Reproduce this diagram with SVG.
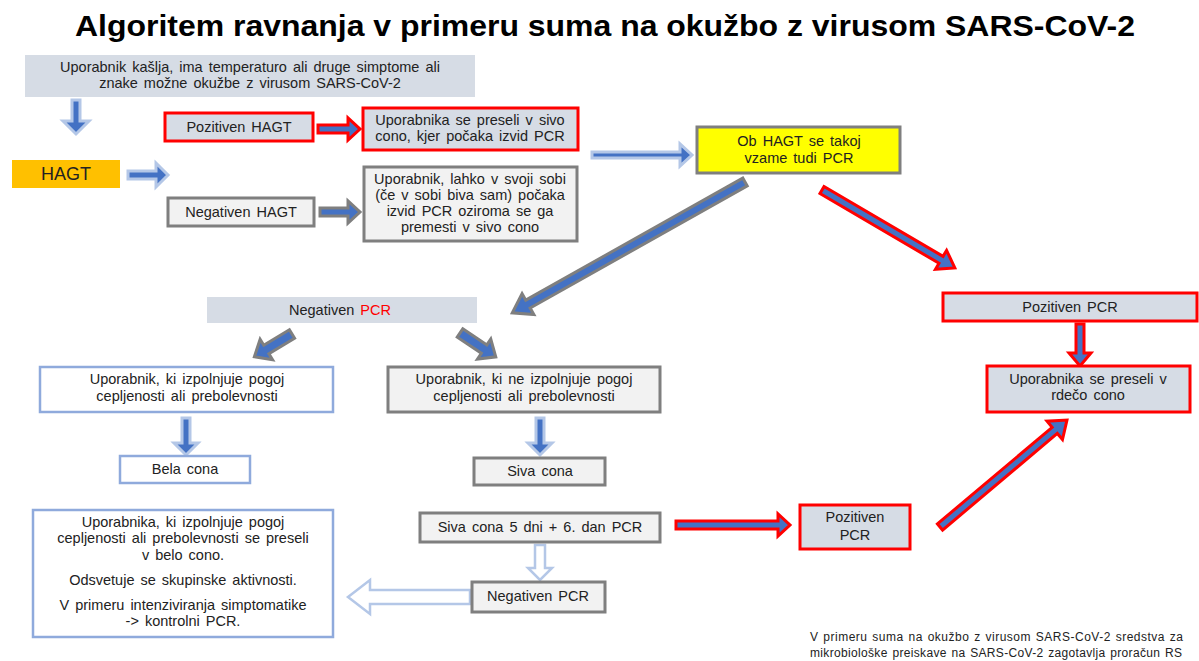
<svg xmlns="http://www.w3.org/2000/svg" width="1199" height="661" viewBox="0 0 1199 661">
<style>
text{font-family:"Liberation Sans",Arial,sans-serif;font-size:14.5px;word-spacing:2px;fill:#222;text-anchor:middle}
.title{font-size:30px;font-weight:bold;fill:#000;word-spacing:0}
.bg{fill:#d6dce5}
.red{fill:#d6dce5;stroke:#ff0000;stroke-width:3}
.gray{fill:#f2f2f2;stroke:#7f7f7f;stroke-width:3}
.lb{fill:#ffffff;stroke:#8faadc;stroke-width:2.5}
.ar-l{fill:#4472c4;stroke:#b4c7e7;stroke-width:3;stroke-linejoin:miter}
.ar-g{fill:#4472c4;stroke:#7f7f7f;stroke-width:3;stroke-linejoin:miter}
.ar-r{fill:#4472c4;stroke:#ff0000;stroke-width:3;stroke-linejoin:miter}
.ar-h{fill:#ffffff;stroke:#b4c7e7;stroke-width:2.5;stroke-linejoin:miter}
.foot{font-size:12px;text-anchor:start;word-spacing:1px}
</style>
<rect width="1199" height="661" fill="#ffffff"/>
<text class="title" x="605" y="36" textLength="1060" lengthAdjust="spacingAndGlyphs">Algoritem ravnanja v primeru suma na okužbo z virusom SARS-CoV-2</text>

<g id="connectors">
<polygon class="ar-l" transform="translate(76,100) rotate(90)" points="0,-4 21,-4 21,-13 34,0 21,13 21,4 0,4"/>
<polygon class="ar-l" transform="translate(128,175)" points="0,-4 28,-4 28,-12 40,0 28,12 28,4 0,4"/>
<polygon class="ar-r" transform="translate(318,129)" points="0,-4 30,-4 30,-11 42,0 30,11 30,4 0,4"/>
<polygon class="ar-g" transform="translate(320,212)" points="0,-4 28,-4 28,-11 40,0 28,11 28,4 0,4"/>
<polygon class="ar-l" transform="translate(592,155)" points="0,-3 88,-3 88,-11 100,0 88,11 88,3 0,3"/>
<polygon class="ar-g" transform="translate(745,182) rotate(150.65)" points="0,-4.5 249,-4.5 249,-12 267,0 249,12 249,4.5 0,4.5"/>
<polygon class="ar-r" transform="translate(822,190) rotate(30.4)" points="0,-4 138,-4 138,-11 154,0 138,11 138,4 0,4"/>
<polygon class="ar-r" transform="translate(1080,324) rotate(90)" points="0,-4 29,-4 29,-11 42,0 29,11 29,4 0,4"/>
<polygon class="ar-g" transform="translate(292,334) rotate(148.8)" points="0,-5 30,-5 30,-12 44,0 30,12 30,5 0,5"/>
<polygon class="ar-g" transform="translate(460,333) rotate(33.7)" points="0,-5 29,-5 29,-12 43,0 29,12 29,5 0,5"/>
<polygon class="ar-l" transform="translate(186,418) rotate(90)" points="0,-4 25,-4 25,-12 37,0 25,12 25,4 0,4"/>
<polygon class="ar-l" transform="translate(540,418) rotate(90)" points="0,-4 25,-4 25,-12 37,0 25,12 25,4 0,4"/>
<polygon class="ar-h" transform="translate(540,545) rotate(90)" points="0,-5 23,-5 23,-12 35,0 23,12 23,5 0,5"/>
<polygon class="ar-h" transform="translate(470,597) rotate(180)" points="0,-7 100,-7 100,-17 122,0 100,17 100,7 0,7"/>
<polygon class="ar-r" transform="translate(676,525)" points="0,-4 102,-4 102,-11 114,0 102,11 102,4 0,4"/>
<polygon class="ar-r" transform="translate(940,527) rotate(-40.1)" points="0,-4 150,-4 150,-12 166,0 150,12 150,4 0,4"/>
</g>

<g id="n-start">
<rect class="bg" x="25" y="55" width="450" height="42"/>
<text x="250" y="72">Uporabnik kašlja, ima temperaturo ali druge simptome ali</text>
<text x="250" y="88">znake možne okužbe z virusom SARS-CoV-2</text>
</g>
<g id="n-hagt">
<rect x="12" y="160" width="108" height="28" fill="#ffc000"/>
<text x="66" y="180" style="font-size:18px">HAGT</text>
</g>
<g id="n-poz-hagt">
<rect class="red" x="165" y="113" width="148" height="28"/>
<text x="239" y="132">Pozitiven HAGT</text>
</g>
<g id="n-siva1">
<rect class="red" x="363" y="108" width="215" height="42"/>
<text x="470" y="125">Uporabnika se preseli v sivo</text>
<text x="470" y="141">cono, kjer počaka izvid PCR</text>
</g>
<g id="n-neg-hagt">
<rect class="gray" x="168" y="198" width="146" height="28"/>
<text x="241" y="217">Negativen HAGT</text>
</g>
<g id="n-soba">
<rect class="gray" x="364" y="167" width="213" height="74"/>
<text x="470" y="184">Uporabnik, lahko v svoji sobi</text>
<text x="470" y="200">(če v sobi biva sam) počaka</text>
<text x="470" y="216">izvid PCR oziroma se ga</text>
<text x="470" y="232">premesti v sivo cono</text>
</g>
<g id="n-pcr">
<rect x="697" y="127" width="203" height="46" fill="#ffff00" stroke="#7f7f7f" stroke-width="3"/>
<text x="799" y="146">Ob HAGT se takoj</text>
<text x="799" y="163">vzame tudi PCR</text>
</g>
<g id="n-poz-pcr">
<rect class="red" x="943" y="293" width="254" height="28"/>
<text x="1070" y="312">Pozitiven PCR</text>
</g>
<g id="n-rdeca">
<rect class="red" x="987" y="366" width="203" height="46"/>
<text x="1088" y="384">Uporabnika se preseli v</text>
<text x="1088" y="400">rdečo cono</text>
</g>
<g id="n-neg-pcr">
<rect class="bg" x="207" y="297" width="270" height="26"/>
<text x="340" y="315">Negativen <tspan fill="#ff0000">PCR</tspan></text>
</g>
<g id="n-izp">
<rect class="lb" x="40" y="367" width="293" height="45"/>
<text x="187" y="384">Uporabnik, ki izpolnjuje  pogoj</text>
<text x="187" y="401">cepljenosti  ali prebolevnosti</text>
</g>
<g id="n-neizp">
<rect class="gray" x="388" y="367" width="272" height="45"/>
<text x="524" y="384">Uporabnik, ki ne izpolnjuje  pogoj</text>
<text x="524" y="401">cepljenosti  ali prebolevnosti</text>
</g>
<g id="n-bela">
<rect class="lb" x="120" y="456" width="130" height="27"/>
<text x="185" y="474">Bela cona</text>
</g>
<g id="n-siva">
<rect class="gray" x="474" y="458" width="131" height="27"/>
<text x="540" y="476">Siva cona</text>
</g>
<g id="n-siva5">
<rect class="gray" x="420" y="513" width="240" height="29"/>
<text x="540" y="532">Siva cona 5 dni + 6. dan PCR</text>
</g>
<g id="n-neg-pcr2">
<rect class="gray" x="472" y="582" width="133" height="30"/>
<text x="538" y="601">Negativen PCR</text>
</g>
<g id="n-belo">
<rect class="lb" x="33" y="510" width="300" height="127"/>
<text x="183" y="527">Uporabnika, ki izpolnjuje  pogoj</text>
<text x="183" y="543">cepljenosti ali prebolevnosti se preseli</text>
<text x="183" y="560">v belo cono.</text>
<text x="183" y="585">Odsvetuje se skupinske aktivnosti.</text>
<text x="183" y="610">V primeru intenziviranja  simptomatike</text>
<text x="183" y="626">-&gt; kontrolni PCR.</text>
</g>
<g id="n-poz-pcr2">
<rect class="red" x="800" y="505" width="110" height="44"/>
<text x="855" y="522">Pozitiven</text>
<text x="855" y="540">PCR</text>
</g>
<g id="footnote">
<text class="foot" x="810" y="641" textLength="373" lengthAdjust="spacing">V primeru suma na okužbo z virusom SARS-CoV-2 sredstva za</text>
<text class="foot" x="810" y="657" textLength="372" lengthAdjust="spacing">mikrobiološke preiskave na SARS-CoV-2 zagotavlja  proračun RS</text>
</g>
</svg>
